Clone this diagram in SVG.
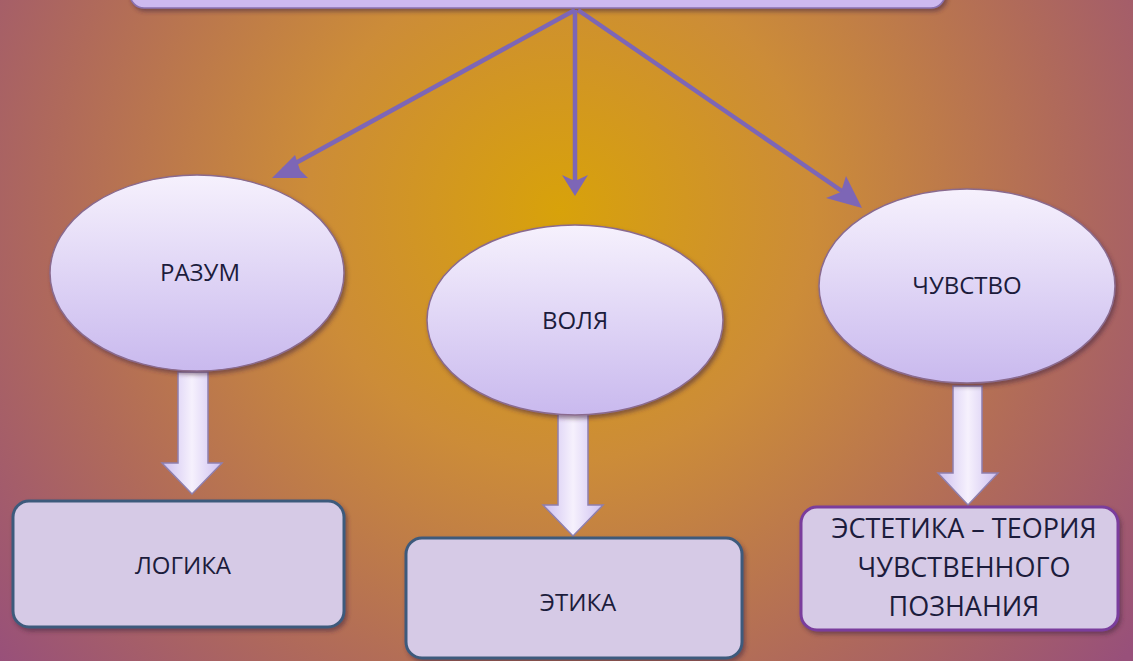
<svg xmlns="http://www.w3.org/2000/svg" width="1133" height="661" viewBox="0 0 1133 661">
<defs>
<radialGradient id="bg" cx="560" cy="210" r="720" gradientUnits="userSpaceOnUse">
<stop offset="0" stop-color="#d8a20a"/>
<stop offset="0.35" stop-color="#cc8c38"/>
<stop offset="0.7" stop-color="#b06a5a"/>
<stop offset="1" stop-color="#98507a"/>
</radialGradient>
<linearGradient id="ell" x1="0" y1="0" x2="0" y2="1">
<stop offset="0" stop-color="#f6f1fd"/>
<stop offset="1" stop-color="#c9b9ee"/>
</linearGradient>
<linearGradient id="barr" x1="0" y1="0" x2="1" y2="0">
<stop offset="0" stop-color="#cdbff0"/>
<stop offset="0.5" stop-color="#f6f1fd"/>
<stop offset="1" stop-color="#cdbff0"/>
</linearGradient>
<filter id="sh" x="-10%" y="-10%" width="120%" height="130%">
<feDropShadow dx="2" dy="3" stdDeviation="2" flood-color="#4a2a40" flood-opacity="0.55"/>
</filter>
</defs>
<style>
.ell{fill:url(#ell);stroke:#8a6a8e;stroke-width:1.5;filter:url(#sh)}
.ba{fill:url(#barr);stroke:#8f7fae;stroke-width:1.5}
.box{fill:#d6cae6;stroke:#3e5a7c;stroke-width:3;filter:url(#sh)}
.lbl{font-family:"Open Sans","Liberation Sans",sans-serif;font-size:24px;fill:#1c1c3c;text-anchor:middle}
.big{font-size:27px}
.con{stroke:#7d66b6;stroke-width:4.5;fill:none}
.head{fill:#7d66b6}
</style>
<rect x="0" y="0" width="1133" height="661" fill="url(#bg)"/>
<g id="top">
<rect x="130" y="-40" width="815" height="48" rx="14" fill="#cdb9f0" stroke="#8a70b0" stroke-width="1.5" filter="url(#sh)"/>
</g>
<g id="connectors">
<line class="con" x1="575" y1="10" x2="283" y2="170"/>
<polygon class="head" points="272,178 295,155 300,170 308,178"/>
<line class="con" x1="575" y1="10" x2="575" y2="182"/>
<polygon class="head" points="575,196 562,175 575,181 588,175"/>
<line class="con" x1="578" y1="10" x2="852" y2="198"/>
<polygon class="head" points="862,208 826,198 841,192 846,176"/>
<path class="ba" d="M178,372 H208 V463 H222 L192,494 L162,463 H178 Z"/>
<path class="ba" d="M558,414 H588 V505 H603 L573,536 L543,505 H558 Z"/>
<path class="ba" d="M953,386 H982 V473 H998 L968,505 L938,473 H953 Z"/>
</g>
<g id="razum">
<ellipse class="ell" cx="197" cy="273" rx="147" ry="98"/>
<text class="lbl" x="200" y="281">РАЗУМ</text>
</g>
<g id="volya">
<ellipse class="ell" cx="575" cy="320" rx="148" ry="95"/>
<text class="lbl" x="575" y="329">ВОЛЯ</text>
</g>
<g id="chuvstvo">
<ellipse class="ell" cx="967" cy="286" rx="148" ry="97"/>
<text class="lbl" x="967" y="294">ЧУВСТВО</text>
</g>
<g id="logika">
<rect class="box" x="13" y="501" width="331" height="126" rx="16"/>
<text class="lbl" x="183" y="574">ЛОГИКА</text>
</g>
<g id="etika">
<rect class="box" x="406" y="538" width="336" height="120" rx="16"/>
<text class="lbl" x="578" y="611">ЭТИКА</text>
</g>
<g id="estetika">
<rect class="box" x="801" y="507" width="317" height="123" rx="16" style="stroke:#7a3c9c"/>
<text class="lbl big" x="964" y="538">ЭСТЕТИКА – ТЕОРИЯ</text>
<text class="lbl big" x="964" y="577">ЧУВСТВЕННОГО</text>
<text class="lbl big" x="964" y="616">ПОЗНАНИЯ</text>
</g>
</svg>
